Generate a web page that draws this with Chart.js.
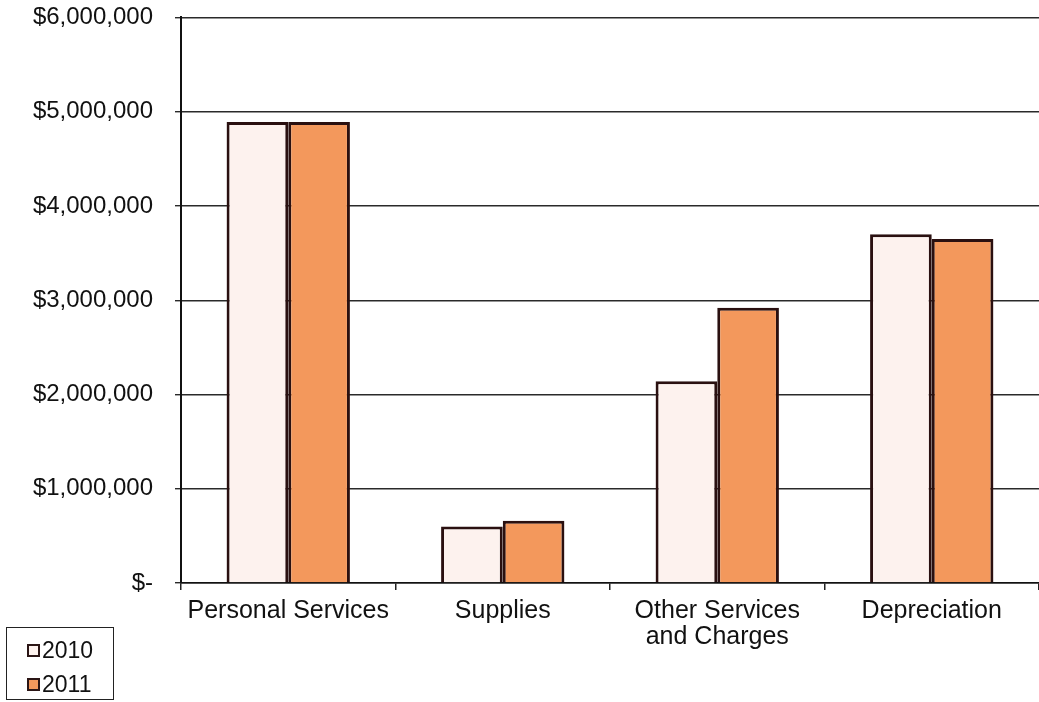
<!DOCTYPE html>
<html>
<head>
<meta charset="utf-8">
<script src="https://cdn.jsdelivr.net/npm/chart.js@4"></script>
<style>
  html, body { margin: 0; padding: 0; background: #fff; overflow: hidden; }
  #wrap { position: relative; width: 1039px; height: 702px; overflow: hidden; }
  #chart { position: absolute; left: 0; top: -19px; }
  #legend {
    position: absolute; left: 6px; top: 627px; width: 108px; height: 73px;
    border: 1.5px solid #222; box-sizing: border-box;
    font-family: "Liberation Sans", Arial, sans-serif; font-size: 23px; color: #111;
    padding: 5px 0 0 20px;
  }
  #legend div { height: 34px; line-height: 34px; }
  #legend span.box {
    display: inline-block; width: 9px; height: 9px; border: 2px solid #2a1515;
    margin-right: 2px; vertical-align: 1px;
  }
</style>
</head>
<body>
<div id="wrap">
  <canvas id="chart" width="1039" height="721"></canvas>
  <div id="legend"></div>
</div>
<script>
// data
const categories = ['Personal Services', 'Supplies', ['Other Services', 'and Charges'], 'Depreciation'];
const seriesNames = ['2010', '2011'];
const values2010 = [4890000, 600000, 2140000, 3700000];
const values2011 = [4890000, 660000, 2920000, 3650000];
const yTicks = [0, 1000000, 2000000, 3000000, 4000000, 5000000, 6000000];

const fills = ['#fdf2ee', '#f3985c'];
const font = { family: '"Liberation Sans", Arial, sans-serif', size: 24 };

function money(v) {
  if (v === 0) return '$-';
  return '$' + v.toLocaleString('en-US');
}

const chart = new Chart(document.getElementById('chart'), {
  type: 'bar',
  data: {
    labels: categories,
    datasets: [
      { label: seriesNames[0], data: values2010, backgroundColor: fills[0] },
      { label: seriesNames[1], data: values2011, backgroundColor: fills[1] }
    ]
  },
  options: {
    responsive: false,
    animation: false,
    layout: { padding: 0 },
    datasets: {
      bar: {
        borderColor: '#2a1010',
        borderWidth: 3,
        borderSkipped: 'bottom',
        categoryPercentage: 0.575,
        barPercentage: 1
      }
    },
    plugins: {
      legend: { display: false },
      tooltip: { enabled: false }
    },
    scales: {
      x: {
        grid: { drawOnChartArea: false, drawTicks: true, tickLength: 7, color: '#222', lineWidth: 1.5 },
        border: { color: '#111', width: 1.6 },
        ticks: { color: '#111', font: { ...font, size: 25, lineHeight: 1.04 }, padding: 8, maxRotation: 0 },
        afterFit: s => { s.height = 702 - 583; }
      },
      y: {
        min: 0,
        max: 6000000,
        afterBuildTicks: s => { s.ticks = yTicks.map(v => ({ value: v })); },
        grid: { color: '#2a2a2a', lineWidth: 1.4, tickLength: 6 },
        border: { color: '#111', width: 2 },
        ticks: { color: '#111', font: font, padding: 22, callback: v => money(v) },
        afterFit: s => { s.width = 181; }
      }
    }
  }
});

// legend box bottom-left, built from the datasets
const legend = document.getElementById('legend');
chart.data.datasets.forEach(ds => {
  const row = document.createElement('div');
  row.innerHTML = '<span class="box" style="background:' + ds.backgroundColor + '"></span>' + ds.label;
  legend.appendChild(row);
});
</script>
</body>
</html>
